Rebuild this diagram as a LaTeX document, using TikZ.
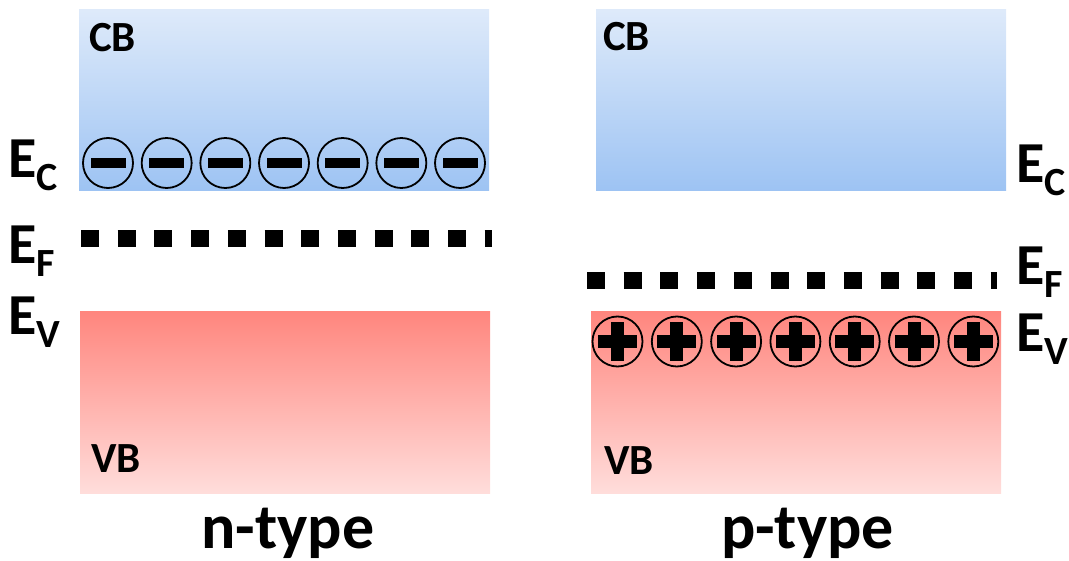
\documentclass[tikz,border=0pt]{standalone}
\usepackage{fontspec}
\setmainfont{Carlito}
\definecolor{cbtop}{RGB}{222,234,250}
\definecolor{cbbot}{RGB}{157,195,243}
\definecolor{vbtop}{RGB}{255,134,126}
\definecolor{vbbot}{RGB}{255,221,219}
\newcommand\bandlevel[1]{{\fontsize{58}{58}\selectfont E}\raisebox{-13pt}{\fontsize{40}{40}\selectfont #1}}
\tikzset{
  cband/.style={inner sep=0, outer sep=0, minimum width=410pt, minimum height=181pt,
    top color=cbtop, bottom color=cbbot, draw=none},
  vband/.style={inner sep=0, outer sep=0, minimum width=410pt, minimum height=181pt,
    top color=vbtop, bottom color=vbbot, draw=none},
  fermi/.style={line width=17pt, dash pattern=on 18pt off 18.7pt, line cap=butt},
  carrier/.style={circle, draw=black, line width=1.8pt, inner sep=0, minimum size=50pt},
  bandname/.style={inner sep=0, anchor=base west, font=\bfseries\fontsize{43}{43}\selectfont},
  level/.style={inner sep=0, anchor=base west, font=\bfseries},
  typename/.style={inner sep=0, anchor=base, font=\bfseries\fontsize{64}{64}\selectfont}
}
\begin{document}
\begin{tikzpicture}[x=1pt,y=-1pt]
\useasboundingbox (0,0) rectangle (1069,561);

% n-type bands
\node[cband] (cbn) at (284,100.5) {};
\node[vband] (vbn) at (285,402.5) {};
% p-type bands
\node[cband] (cbp) at (801,100.5) {};
\node[vband] (vbp) at (796,402.5) {};

% Fermi levels
\coordinate (fna) at (81,239);
\coordinate (fnb) at (492,239);
\coordinate (fpa) at (587,280.5);
\coordinate (fpb) at (997,280.5);
\draw[fermi] (fna) -- (fnb);
\draw[fermi] (fpa) -- (fpb);

% electrons at the conduction band edge
\foreach \i in {0,...,6} {
  \node[carrier] (el\i) at ({108+\i*58.67},163) {};
  \fill (el\i.center) ++(-17.5,-5) rectangle ++(35,10);
}
% holes at the valence band edge
\foreach \i in {0,...,6} {
  \node[carrier] (ho\i) at ({617.5+\i*59.3},341.5) {};
  \fill (ho\i.center) ++(-19.5,-6.5) rectangle ++(39,13);
  \fill (ho\i.center) ++(-6.5,-19.5) rectangle ++(13,39);
}

% band names
\node[bandname] (cbnl) at (89,52) {CB};
\node[bandname] (cbpl) at (603,51) {CB};
\node[bandname] (vbnl) at (91,472) {VB};
\node[bandname] (vbpl) at (604,474) {VB};

% energy levels
\node[level] (ecn) at (8,178) {\bandlevel{C}};
\node[level] (efn) at (8,264) {\bandlevel{F}};
\node[level] (evn) at (8,335) {\bandlevel{V}};
\node[level] (ecp) at (1016,183) {\bandlevel{C}};
\node[level] (efp) at (1016,285) {\bandlevel{F}};
\node[level] (evp) at (1016,352) {\bandlevel{V}};

% doping type
\node[typename] (nt) at (288,548) {n-type};
\node[typename] (pt) at (807.5,548) {p-type};
\end{tikzpicture}
\end{document}
